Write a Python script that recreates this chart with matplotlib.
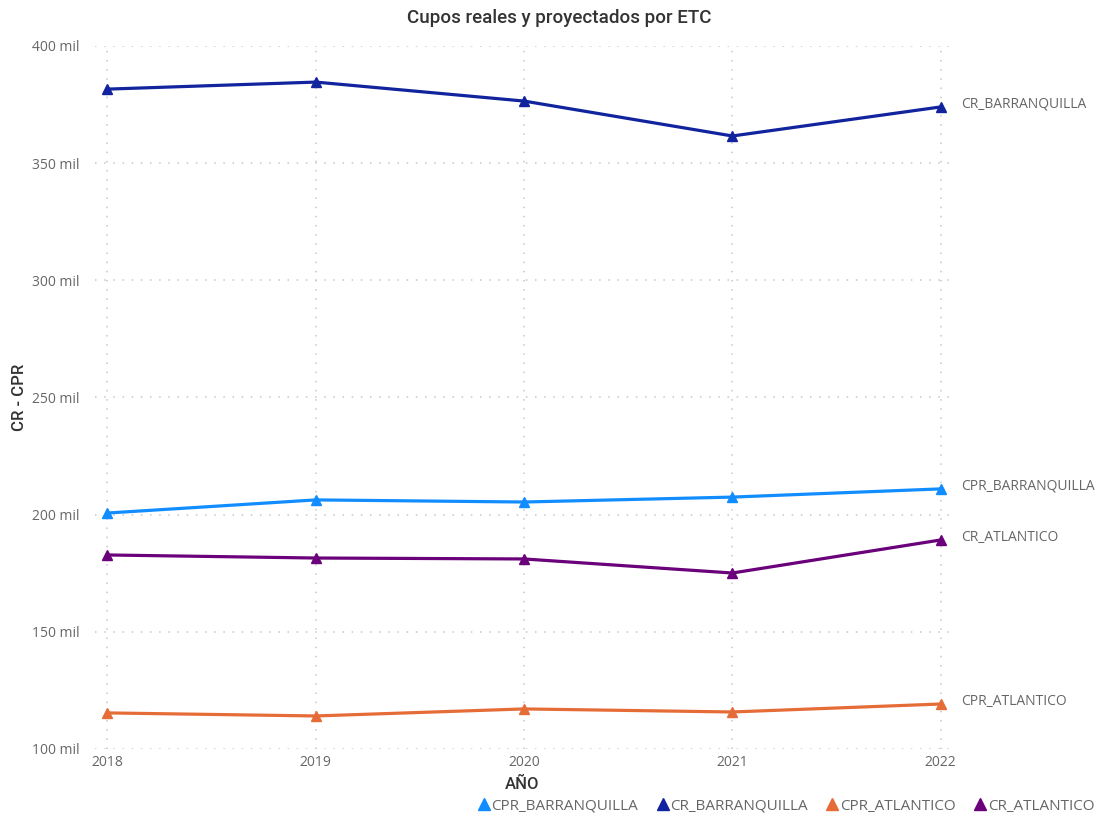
import numpy as np
import matplotlib.pyplot as plt
from matplotlib.lines import Line2D
from matplotlib.ticker import FuncFormatter

years = [2018, 2019, 2020, 2021, 2022]
# values in thousands ("mil")
cpr_barranquilla = [200.7, 206.3, 205.4, 207.5, 211.0]
cr_barranquilla = [381.6, 384.6, 376.5, 361.6, 374.0]
cpr_atlantico = [115.4, 114.1, 117.1, 115.8, 119.2]
cr_atlantico = [182.8, 181.5, 181.1, 175.1, 189.2]

series = ["CPR_BARRANQUILLA", "CR_BARRANQUILLA", "CPR_ATLANTICO", "CR_ATLANTICO"]
values = [cpr_barranquilla, cr_barranquilla, cpr_atlantico, cr_atlantico]
colors = ["#118DFF", "#12239E", "#E66C37", "#6B007B"]

plt.rcParams['font.family'] = ['Open Sans', 'DejaVu Sans']

fig = plt.figure(figsize=(11.08, 8.25), dpi=100)
ax = fig.add_axes([95/1108, 76/825, (950-95)/1108, (749-46)/825])

for name, vals, c in zip(series, values, colors):
    ax.plot(years, vals, color=c, lw=2.3, marker='^', markersize=7, zorder=3)
    ax.annotate(name, (years[-1], vals[-1]), xytext=(15, 2), textcoords='offset points',
                va='center', ha='left', fontsize=10, color='#666666')

ax.set_xlim(2017.94, 2022.045)
ax.set_ylim(100, 400)
ax.set_yticks([100, 150, 200, 250, 300, 350, 400])
ax.set_xticks(years)
ax.yaxis.set_major_formatter(FuncFormatter(lambda v, p: f"{int(v)} mil"))
ax.tick_params(length=0, labelsize=10, labelcolor='#666666')
ax.tick_params(axis='y', pad=11)
ax.tick_params(axis='x', pad=4)
ax.grid(True, color='#c8c8c8', linestyle=(0, (1, 5)), lw=1.1)
for s in ax.spines.values():
    s.set_visible(False)

ax.set_xlabel("AÑO", fontsize=12, fontweight='medium', color='#333333', labelpad=5,
              family=['Roboto', 'DejaVu Sans'])
ax.set_ylabel("CR - CPR", fontsize=12, fontweight='medium', color='#333333', labelpad=4,
              family=['Roboto', 'DejaVu Sans'])
fig.text(0.505, 0.978, "Cupos reales y proyectados por ETC", ha='center', va='center',
         fontsize=13.5, fontweight='medium', color='#333333', family=['Roboto', 'DejaVu Sans'])

handles = [Line2D([], [], color=c, marker='^', linestyle='none', markersize=8) for c in colors]
leg = fig.legend(handles, series, loc='lower right', bbox_to_anchor=(1.0, -0.003), ncol=4,
                 frameon=False, fontsize=11, handletextpad=-0.1, columnspacing=1.0,
                 handlelength=1.2)
for t in leg.get_texts():
    t.set_color('#666666')

fig.savefig("out.png", dpi=100)
